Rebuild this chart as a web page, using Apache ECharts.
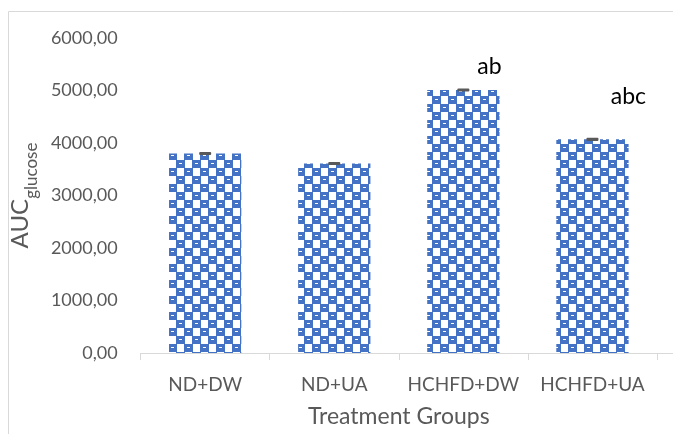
<!DOCTYPE html>
<html>
<head>
<meta charset="utf-8">
<script src="https://cdn.jsdelivr.net/npm/echarts@6/dist/echarts.min.js"></script>
<style>html,body{margin:0;padding:0;background:#fff}#c{width:673px;height:434px}</style>
</head>
<body>
<div id="c"></div>
<script>
const categories = ['ND+DW', 'ND+UA', 'HCHFD+DW', 'HCHFD+UA'];
const aucValues = [3800, 3610, 5010, 4070];
const aucErrors = [30, 30, 30, 30];
const sigLabels = ['', '', 'ab', 'abc'];
const yMin = 0, yMax = 6000, yStep = 1000;

// checkered fill pattern
const pc = document.createElement('canvas');
pc.width = 16; pc.height = 16;
const px = pc.getContext('2d');
px.fillStyle = '#ffffff'; px.fillRect(0, 0, 16, 16);
px.fillStyle = '#4472C4';
px.fillRect(0, 0, 9, 8); px.fillRect(8, 8, 9, 8); px.fillRect(0, 8, 1, 8);
px.fillStyle = '#ffffff';
px.fillRect(3, 3, 3, 1); px.fillRect(11, 11, 3, 1);

const FONT = 'Lato';
const TXT = '#595959';
const labelDist = [0, 0, 12, 31];
const labelDx = [0, 0, 26, 36];

const chart = echarts.init(document.getElementById('c'));
chart.setOption({
  animation: false,
  backgroundColor: '#fff',
  graphic: [{
    type: 'rect', left: 6, top: 9, shape: { width: 720, height: 520 },
    style: { fill: 'none', stroke: '#d9d9d9', lineWidth: 1 }, silent: true
  }, {
    type: 'line', shape: { x1: 657, y1: 353.5, x2: 680, y2: 353.5 },
    style: { stroke: '#d9d9d9', lineWidth: 1 }, silent: true
  }],
  grid: { left: 133, right: 16, top: 38, bottom: 81 },
  xAxis: {
    type: 'category',
    data: categories,
    axisLine: { lineStyle: { color: '#d9d9d9', width: 1 } },
    axisTick: { show: true, length: 7, lineStyle: { color: '#d9d9d9' } },
    axisLabel: { color: TXT, fontFamily: FONT, fontSize: 19, margin: 22, lineHeight: 20, interval: 0 },
    name: 'Treatment Groups',
    nameLocation: 'middle',
    nameGap: 52,
    nameTextStyle: { color: TXT, fontFamily: FONT, fontSize: 23 }
  },
  yAxis: {
    type: 'value',
    min: yMin, max: yMax, interval: yStep,
    axisLine: { show: false },
    axisTick: { show: false },
    splitLine: { show: false },
    axisLabel: {
      color: TXT, fontFamily: FONT, fontSize: 18, margin: 23,
      formatter: v => v.toFixed(2).replace('.', ',')
    },
    name: '{a|AUC}{s|glucose}',
    nameLocation: 'middle',
    nameRotate: 90,
    nameGap: 81,
    nameTextStyle: {
      color: TXT, fontFamily: FONT,
      rich: {
        a: { fontSize: 24, lineHeight: 26, verticalAlign: 'top', color: TXT, fontFamily: FONT },
        s: { fontSize: 17, lineHeight: 18, padding: [15, 0, 0, 0], verticalAlign: 'top', color: TXT, fontFamily: FONT }
      }
    }
  },
  series: [{
    type: 'bar',
    data: aucValues.map((v, i) => ({
      value: v,
      label: {
        show: sigLabels[i] !== '',
        position: 'top',
        distance: labelDist[i],
        offset: [labelDx[i], 0],
        formatter: sigLabels[i],
        color: '#000', fontFamily: FONT, fontSize: 23
      }
    })),
    barCategoryGap: '44%',
    itemStyle: { color: { image: pc, repeat: 'repeat' } }
  }, {
    type: 'custom',
    data: aucValues.map((v, i) => [i, v, aucErrors[i]]),
    z: 5,
    renderItem: (params, api) => {
      const i = api.value(0), v = api.value(1), e = api.value(2);
      const top = api.coord([i, v + e]);
      const bot = api.coord([i, v - e]);
      const h = Math.max(bot[1] - top[1], 3);
      return {
        type: 'rect',
        shape: { x: top[0] - 6, y: (top[1] + bot[1]) / 2 - h / 2, width: 12, height: h, r: 1 },
        style: { fill: '#595959' }
      };
    }
  }]
});
</script>
</body>
</html>
